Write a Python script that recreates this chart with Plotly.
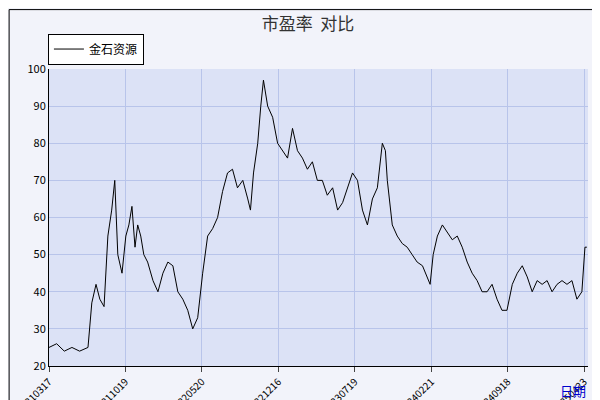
import plotly.graph_objects as go

# trading-day index and PE values
day_idx = [0, 20, 40, 60, 80, 102, 112, 123, 133, 144, 154, 164, 172, 180, 191, 201, 209, 217, 225, 232,
           240, 248, 258, 272, 285, 298, 311, 324, 337, 350, 363, 376, 389, 402, 415, 428, 441, 454, 467, 480,
           493, 507, 520, 527, 535, 546, 554, 561, 572, 585, 598, 611, 624, 637, 650, 663, 676, 689, 702, 715,
           728, 742, 755, 768, 781, 794, 807, 820, 833, 846, 859, 872, 880, 885, 898, 911, 924, 937, 950, 963,
           977, 990, 997, 1005, 1016, 1029, 1042, 1055, 1068, 1081, 1094, 1107, 1120, 1133, 1146, 1159, 1172,
           1185, 1198, 1212, 1225, 1238, 1251, 1264, 1277, 1290, 1303, 1316, 1329, 1342, 1355, 1368, 1381,
           1394, 1402, 1407]
pe = [25, 26, 24, 25, 24, 25, 37, 42, 38, 36, 55, 62, 70, 50, 45, 55, 58, 63, 52, 58,
      55, 50, 48, 43, 40, 45, 48, 47, 40, 38, 35, 30, 33, 45, 55, 57, 60, 67, 72, 73,
      68, 70, 65, 62, 72, 80, 90, 97, 90, 87, 80, 78, 76, 84, 78, 76, 73, 75, 70, 70,
      66, 68, 62, 64, 68, 72, 70, 62, 58, 65, 68, 80, 78, 70, 58, 55, 53, 52, 50, 48,
      47, 44, 42, 50, 55, 58, 56, 54, 55, 52, 48, 45, 43, 40, 40, 42, 38,
      35, 35, 42, 45, 47, 44, 40, 43, 42, 43, 40, 42, 43, 42, 43, 38,
      40, 52, 52]
tick_idx = [0, 200, 400, 600, 800, 1000, 1200, 1400]
tick_text = ["20210317", "20211019", "20220520", "20221216", "20230719", "20240221", "20240918", "20250423"]

fig = go.Figure(go.Scatter(x=day_idx, y=pe, mode="lines", name="金石资源",
                           line=dict(color="black", width=1)))

fig.update_layout(
    width=600, height=400,
    margin=dict(l=41, r=20, t=61, b=42, autoexpand=False),
    paper_bgcolor="#f2f3fa", plot_bgcolor="#dce2f6",
    font=dict(family="Noto Sans CJK SC, DejaVu Sans", size=11, color="black"),
    title=dict(text="市盈率  对比", x=0.5, y=0.975, xanchor="center", font=dict(size=17, color="#333")),
    showlegend=True,
    legend=dict(x=-0.002, y=1.015, xanchor="left", yanchor="bottom", bgcolor="white",
                bordercolor="black", borderwidth=1, font=dict(size=12),
                itemwidth=30, tracegroupgap=0),
    xaxis=dict(range=[0, 1410], tickvals=tick_idx, ticktext=tick_text, tickangle=-45,
               showgrid=True, gridcolor="#b8c4ea", ticks="outside", ticklen=5, automargin=False,
               showline=True, linecolor="black", zeroline=False, tickfont=dict(size=10)),
    yaxis=dict(range=[20, 100], dtick=10, showgrid=True, gridcolor="#b8c4ea", automargin=False,
               showline=True, linecolor="black", zeroline=False, ticks="", tickfont=dict(size=11)),
    annotations=[dict(text="日期", x=1.0, y=-0.045, xref="paper", yref="paper", xanchor="right",
                      yanchor="top", showarrow=False, font=dict(color="#0000cc", size=13))],
    shapes=[dict(type="rect", xref="paper", yref="paper", x0=-0.074, x1=1.031, y0=-0.132, y1=1.2,
                 line=dict(color="black", width=1))],
)

fig.write_html("out.html")
